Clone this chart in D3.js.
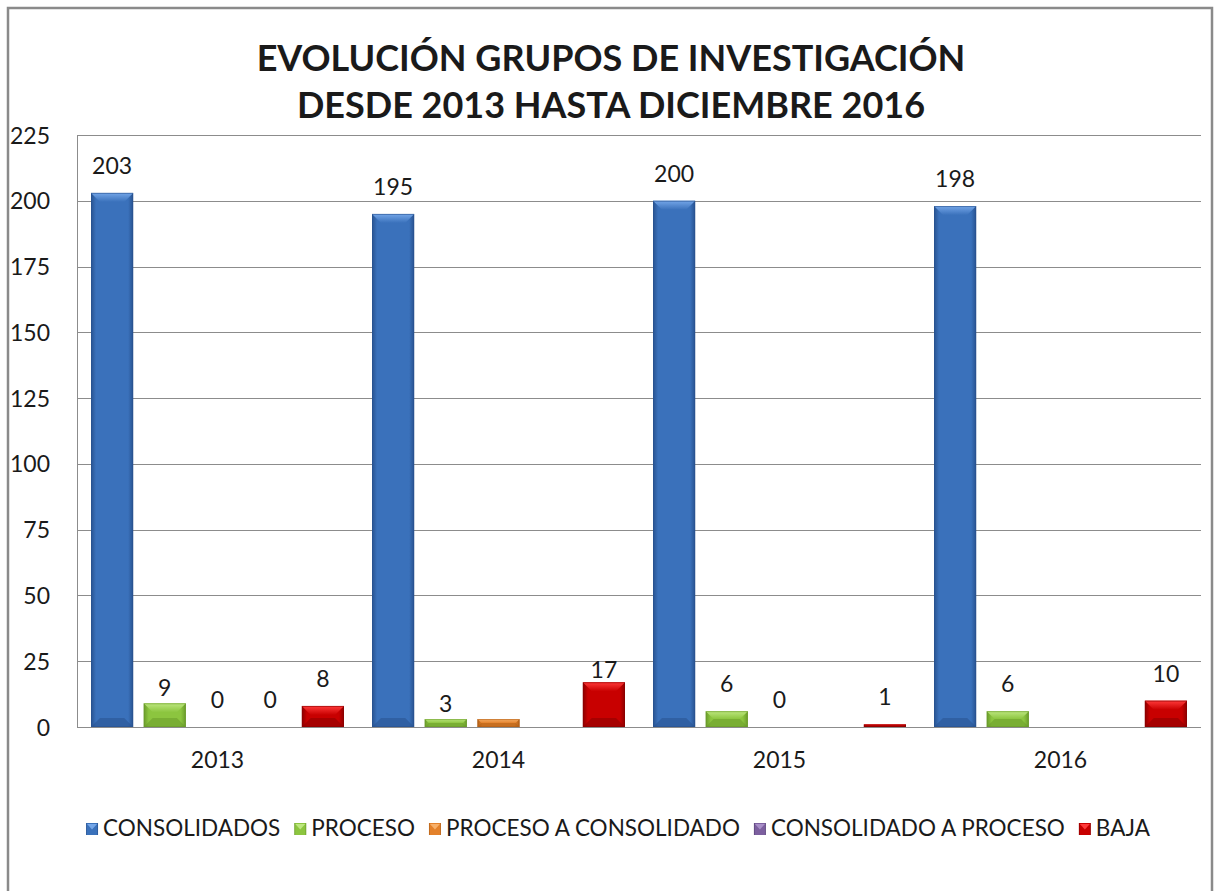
<!DOCTYPE html>
<html>
<head>
<meta charset="utf-8">
<script src="https://cdn.jsdelivr.net/npm/d3@7"></script>
<style>
  body { margin: 0; background: #fff; }
  text { font-family: Lato, "Open Sans", sans-serif; fill: #1a1a1a; font-variant-numeric: tabular-nums; }
</style>
</head>
<body>
<script>
// chart data
var years = ["2013", "2014", "2015", "2016"];
var series = ["CONSOLIDADOS", "PROCESO", "PROCESO A CONSOLIDADO", "CONSOLIDADO A PROCESO", "BAJA"];
var consolidados = [203, 195, 200, 198];
var proceso = [9, 3, 6, 6];
var procesoAConsolidado = [0, 3, 0, null];
var consolidadoAProceso = [0, null, null, null];
var baja = [8, 17, 1, 10];
var yTicks = [0, 25, 50, 75, 100, 125, 150, 175, 200, 225];
// labels that are not shown in the original (year index, series index)
var hiddenLabels = [[1, 2]];

var seriesValues = [consolidados, proceso, procesoAConsolidado, consolidadoAProceso, baja];

var colors = [
  {base: "#3a71bb", light: "#74a6e8", dark: "#28528f"},
  {base: "#8cc53f", light: "#bde77f", dark: "#699a2a"},
  {base: "#e3812b", light: "#f7b06a", dark: "#b05e16"},
  {base: "#7c5f9f", light: "#a88fc8", dark: "#574276"},
  {base: "#c80000", light: "#ff3a3a", dark: "#8a0000"}
];

var width = 1218, height = 891;
var plot = {left: 77, right: 1201, top: 135, bottom: 727};
var fontSize = "23px";

var svg = d3.select("body").append("svg")
    .attr("width", width)
    .attr("height", height);

var defs = svg.append("defs");
colors.forEach(function(c, i) {
  var g = defs.append("linearGradient").attr("id", "body" + i)
      .attr("x1", "0").attr("x2", "1").attr("y1", "0").attr("y2", "0");
  g.append("stop").attr("offset", "0").attr("stop-color", c.dark);
  g.append("stop").attr("offset", "0.12").attr("stop-color", c.base);
  g.append("stop").attr("offset", "0.88").attr("stop-color", c.base);
  g.append("stop").attr("offset", "1").attr("stop-color", c.dark);
  var t = defs.append("linearGradient").attr("id", "top" + i)
      .attr("x1", "0").attr("x2", "0").attr("y1", "0").attr("y2", "1");
  t.append("stop").attr("offset", "0").attr("stop-color", c.light);
  t.append("stop").attr("offset", "1").attr("stop-color", c.base);
});

// outer frame
svg.append("rect")
    .attr("x", 8).attr("y", 8)
    .attr("width", 1204).attr("height", 910)
    .attr("fill", "none")
    .attr("stroke", "#8a8a8a")
    .attr("stroke-width", 2.5);

// title
var title = svg.append("text")
    .attr("text-anchor", "middle")
    .style("font-weight", "bold")
    .style("font-size", "36px");
title.append("tspan").attr("x", 611).attr("y", 71).text("EVOLUCIÓN GRUPOS DE INVESTIGACIÓN");
title.append("tspan").attr("x", 611).attr("y", 118).text("DESDE 2013 HASTA DICIEMBRE 2016");

var y = d3.scaleLinear().domain([0, 225]).range([plot.bottom, plot.top]);
var x0 = d3.scaleBand().domain(years).range([plot.left, plot.right]);
var x1 = d3.scaleBand().domain(series).range([14, x0.bandwidth() - 14]).paddingInner(0.2);

// gridlines
svg.append("g")
  .selectAll("line")
  .data(yTicks)
  .enter().append("line")
    .attr("x1", plot.left).attr("x2", plot.right)
    .attr("y1", function(d) { return Math.round(y(d)) + 0.5; })
    .attr("y2", function(d) { return Math.round(y(d)) + 0.5; })
    .attr("stroke", "#8c8c8c")
    .attr("stroke-width", 1);

svg.append("line")
    .attr("x1", plot.left + 0.5).attr("x2", plot.left + 0.5)
    .attr("y1", plot.top).attr("y2", plot.bottom)
    .attr("stroke", "#8c8c8c");

// y axis labels
var yAxis = d3.axisLeft(y).tickValues(yTicks).tickSize(0).tickPadding(0);
var yg = svg.append("g")
    .attr("transform", "translate(50,0)")
    .call(yAxis);
yg.select(".domain").remove();
yg.selectAll("text")
    .attr("x", 0)
    .attr("dy", "0.35em")
    .style("font-family", "Lato, sans-serif")
    .style("font-size", fontSize)
    .attr("fill", "#1a1a1a");

// x axis labels
var xAxis = d3.axisBottom(x0).tickSize(0).tickPadding(0);
var xg = svg.append("g")
    .attr("transform", "translate(0," + plot.bottom + ")")
    .call(xAxis);
xg.select(".domain").remove();
xg.selectAll("text")
    .attr("y", 41)
    .attr("dy", "0")
    .style("font-family", "Lato, sans-serif")
    .style("font-size", fontSize)
    .attr("fill", "#1a1a1a");

// flatten bar data
var bars = [];
years.forEach(function(yr, yi) {
  series.forEach(function(s, si) {
    var v = seriesValues[si][yi];
    if (v === null) return;
    var hidden = hiddenLabels.some(function(h) { return h[0] === yi && h[1] === si; });
    bars.push({year: yr, yi: yi, series: s, si: si, value: v, hideLabel: hidden});
  });
});

var barG = svg.append("g").selectAll("g")
  .data(bars.filter(function(d) { return d.value > 0; }))
  .enter().append("g");

barG.each(function(d) {
  var g = d3.select(this);
  var bx = x0(d.year) + x1(d.series);
  var bw = x1.bandwidth();
  var top = y(d.value);
  var h = plot.bottom - top;
  var b = Math.min(9, h / 2);
  var c = colors[d.si];
  g.append("rect")
      .attr("x", bx).attr("y", top)
      .attr("width", bw).attr("height", h)
      .attr("fill", "url(#body" + d.si + ")");
  // top bevel
  g.append("path")
      .attr("d", "M" + bx + "," + top + "L" + (bx + bw) + "," + top +
                 "L" + (bx + bw - b) + "," + (top + b) + "L" + (bx + b) + "," + (top + b) + "Z")
      .attr("fill", "url(#top" + d.si + ")");
  // bottom bevel
  g.append("path")
      .attr("d", "M" + bx + "," + plot.bottom + "L" + (bx + bw) + "," + plot.bottom +
                 "L" + (bx + bw - b) + "," + (plot.bottom - b) + "L" + (bx + b) + "," + (plot.bottom - b) + "Z")
      .attr("fill", c.dark)
      .attr("opacity", 0.55);
  g.append("rect")
      .attr("x", bx + 0.5).attr("y", top + 0.5)
      .attr("width", bw - 1).attr("height", Math.max(0, h - 1))
      .attr("fill", "none")
      .attr("stroke", c.dark)
      .attr("stroke-opacity", 0.6);
});

// data labels (a few were moved by hand in the original)
var nudge = {"0-1": 12, "1-1": 12, "1-4": 15};
svg.append("g").selectAll("text")
  .data(bars.filter(function(d) { return !d.hideLabel; }))
  .enter().append("text")
    .attr("x", function(d) { return x0(d.year) + x1(d.series) + x1.bandwidth() / 2; })
    .attr("y", function(d) { return y(d.value) - 19 + (nudge[d.yi + "-" + d.si] || 0); })
    .attr("text-anchor", "middle")
    .style("font-size", fontSize)
    .text(function(d) { return d.value; });

// legend
var legend = svg.append("g").attr("transform", "translate(0,828)");
var items = legend.selectAll("g")
  .data(series)
  .enter().append("g");

items.append("rect")
    .attr("x", 0).attr("y", -5)
    .attr("width", 12).attr("height", 12)
    .attr("fill", function(d, i) { return "url(#body" + i + ")"; });
items.append("path")
    .attr("d", "M1,-4L11,-4L6,1.5Z")
    .attr("fill", function(d, i) { return colors[i].light; });
items.append("text")
    .attr("x", 17)
    .attr("y", 8)
    .style("font-size", "22.5px")
    .text(function(d) { return d; });

var pos = 0, offsets = [];
items.each(function() {
  offsets.push(pos);
  pos += 17 + d3.select(this).select("text").node().getComputedTextLength() + 14;
});
var total = pos - 14;
var startX = 618 - total / 2;
items.attr("transform", function(d, i) { return "translate(" + (startX + offsets[i]) + ",0)"; });
</script>
</body>
</html>
